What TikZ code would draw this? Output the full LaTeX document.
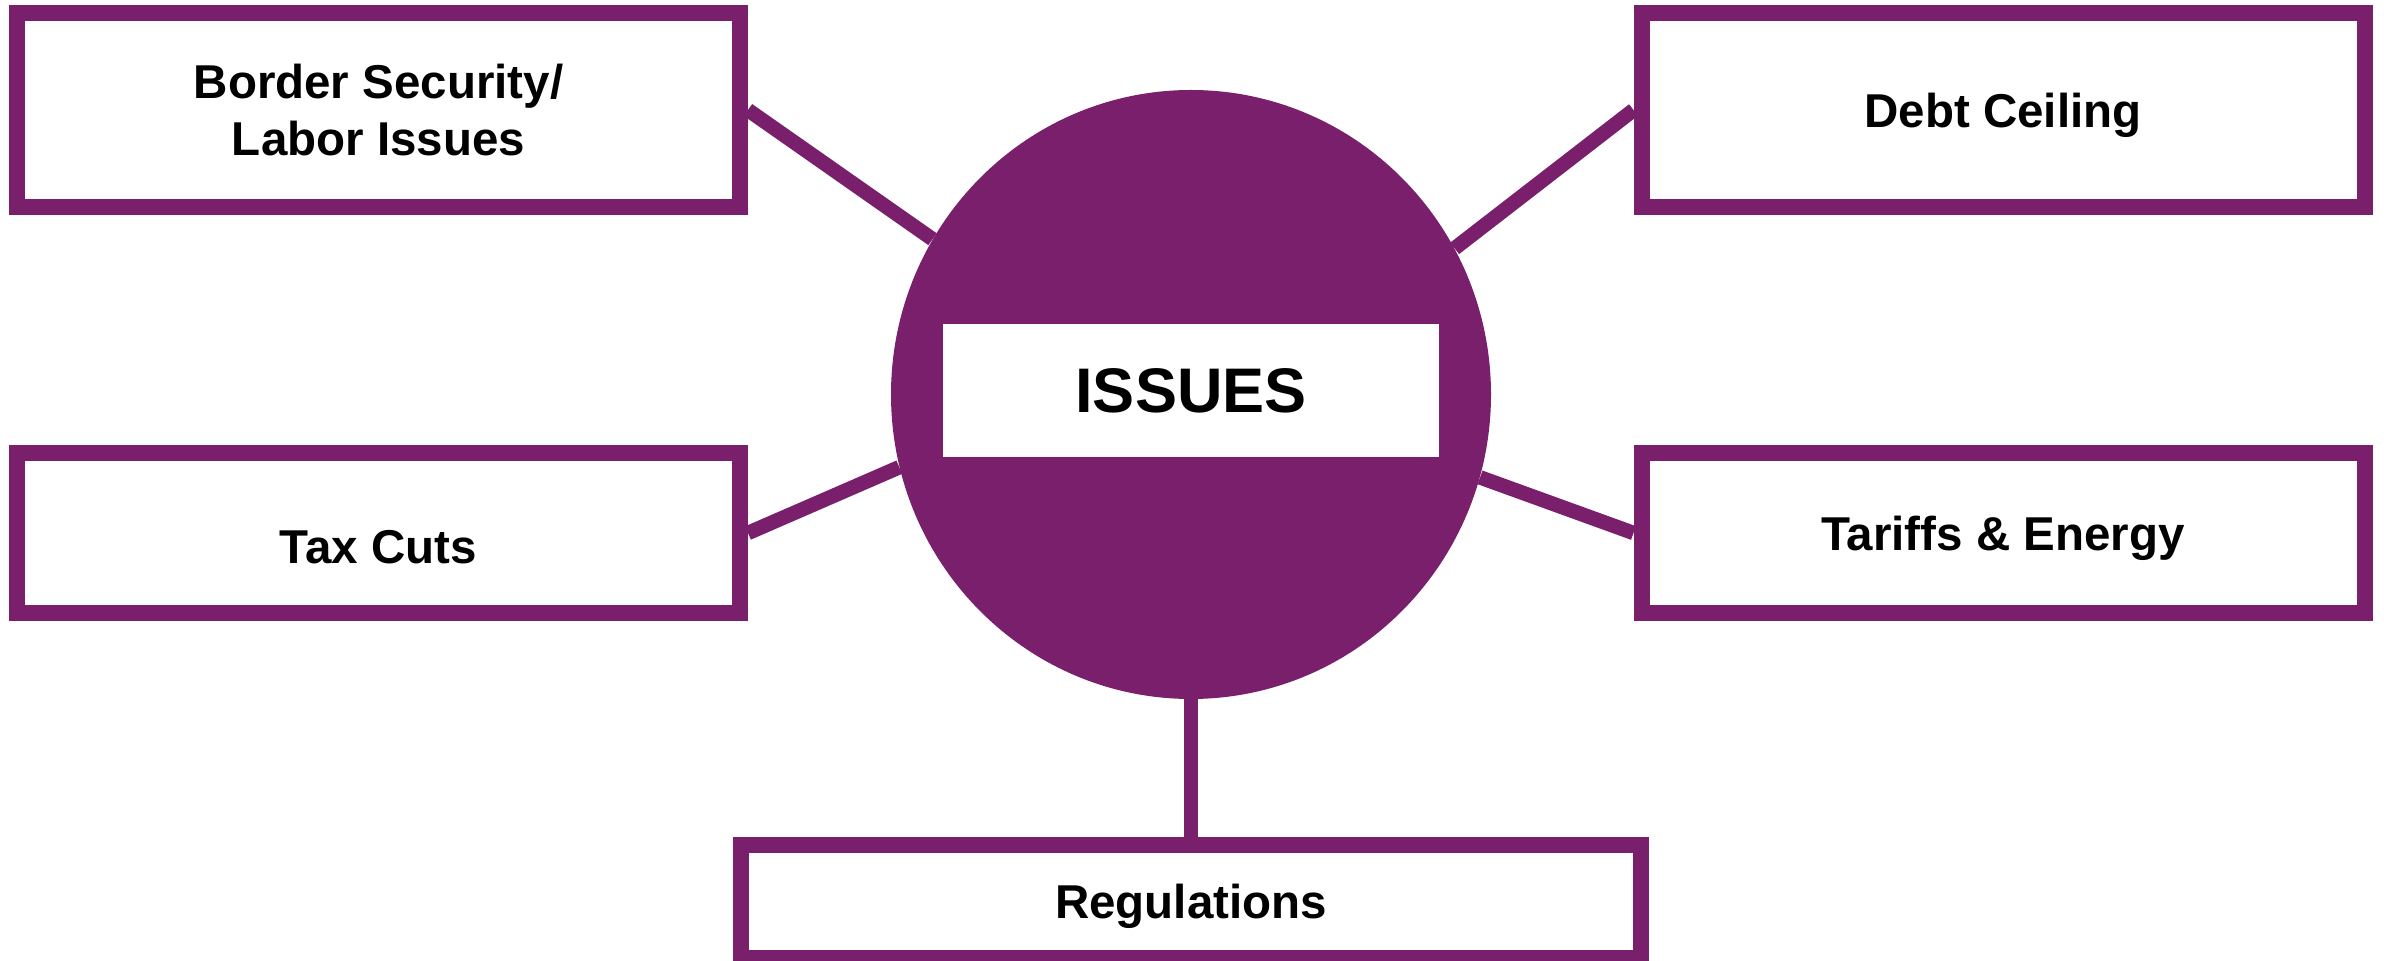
\documentclass[tikz,border=0pt]{standalone}
\usepackage{fontspec}
\setmainfont{Liberation Sans}
\usetikzlibrary{shapes.geometric}
\definecolor{issuepurple}{RGB}{121,31,107}
\tikzset{
  topicbox/.style={draw=issuepurple, line width=8pt, fill=white, inner sep=0pt,
    minimum width=361.5pt, align=center, font=\bfseries\fontsize{23.75}{28.5}\selectfont},
  oneline/.style={text depth=0pt},
  link/.style={draw=issuepurple, line width=7.25pt},
}
\begin{document}
\begin{tikzpicture}[x=0.5pt,y=-0.5pt]
  \useasboundingbox (0,0) rectangle (2384,961);
  % centre
  \node[ellipse, fill=issuepurple, minimum width=300pt, minimum height=304.5pt, inner sep=0pt] (hub) at (1191,394.5) {};
  \node[fill=white, minimum width=248pt, minimum height=66.5pt, inner sep=0pt,
    font=\bfseries\fontsize{31.5}{36}\selectfont] (title) at (1191,390.5) {ISSUES};
  % topics
  \node[topicbox, minimum height=97pt] (border) at (378.5,110) {Border Security/\\Labor Issues};
  \node[topicbox, oneline, minimum height=97pt] (debt) at (2003,110) {Debt Ceiling};
  \node[topicbox, minimum height=80pt, text height=31pt, text depth=0pt] (tax) at (378.5,533) {Tax Cuts};
  \node[topicbox, oneline, minimum height=80pt] (tariffs) at (2003,533) {Tariffs \& Energy};
  \node[topicbox, oneline, minimum width=450pt, minimum height=56.5pt] (regs) at (1191,901.5) {Regulations};
  \foreach \b/\a/\h in {border/east/149,debt/west/29,tax/east/194,tariffs/west/344} {
    \draw[link] (\b.\a) -- (hub.\h);
  }
  \draw[link] (hub.south) -- (regs.north);
\end{tikzpicture}
\end{document}
